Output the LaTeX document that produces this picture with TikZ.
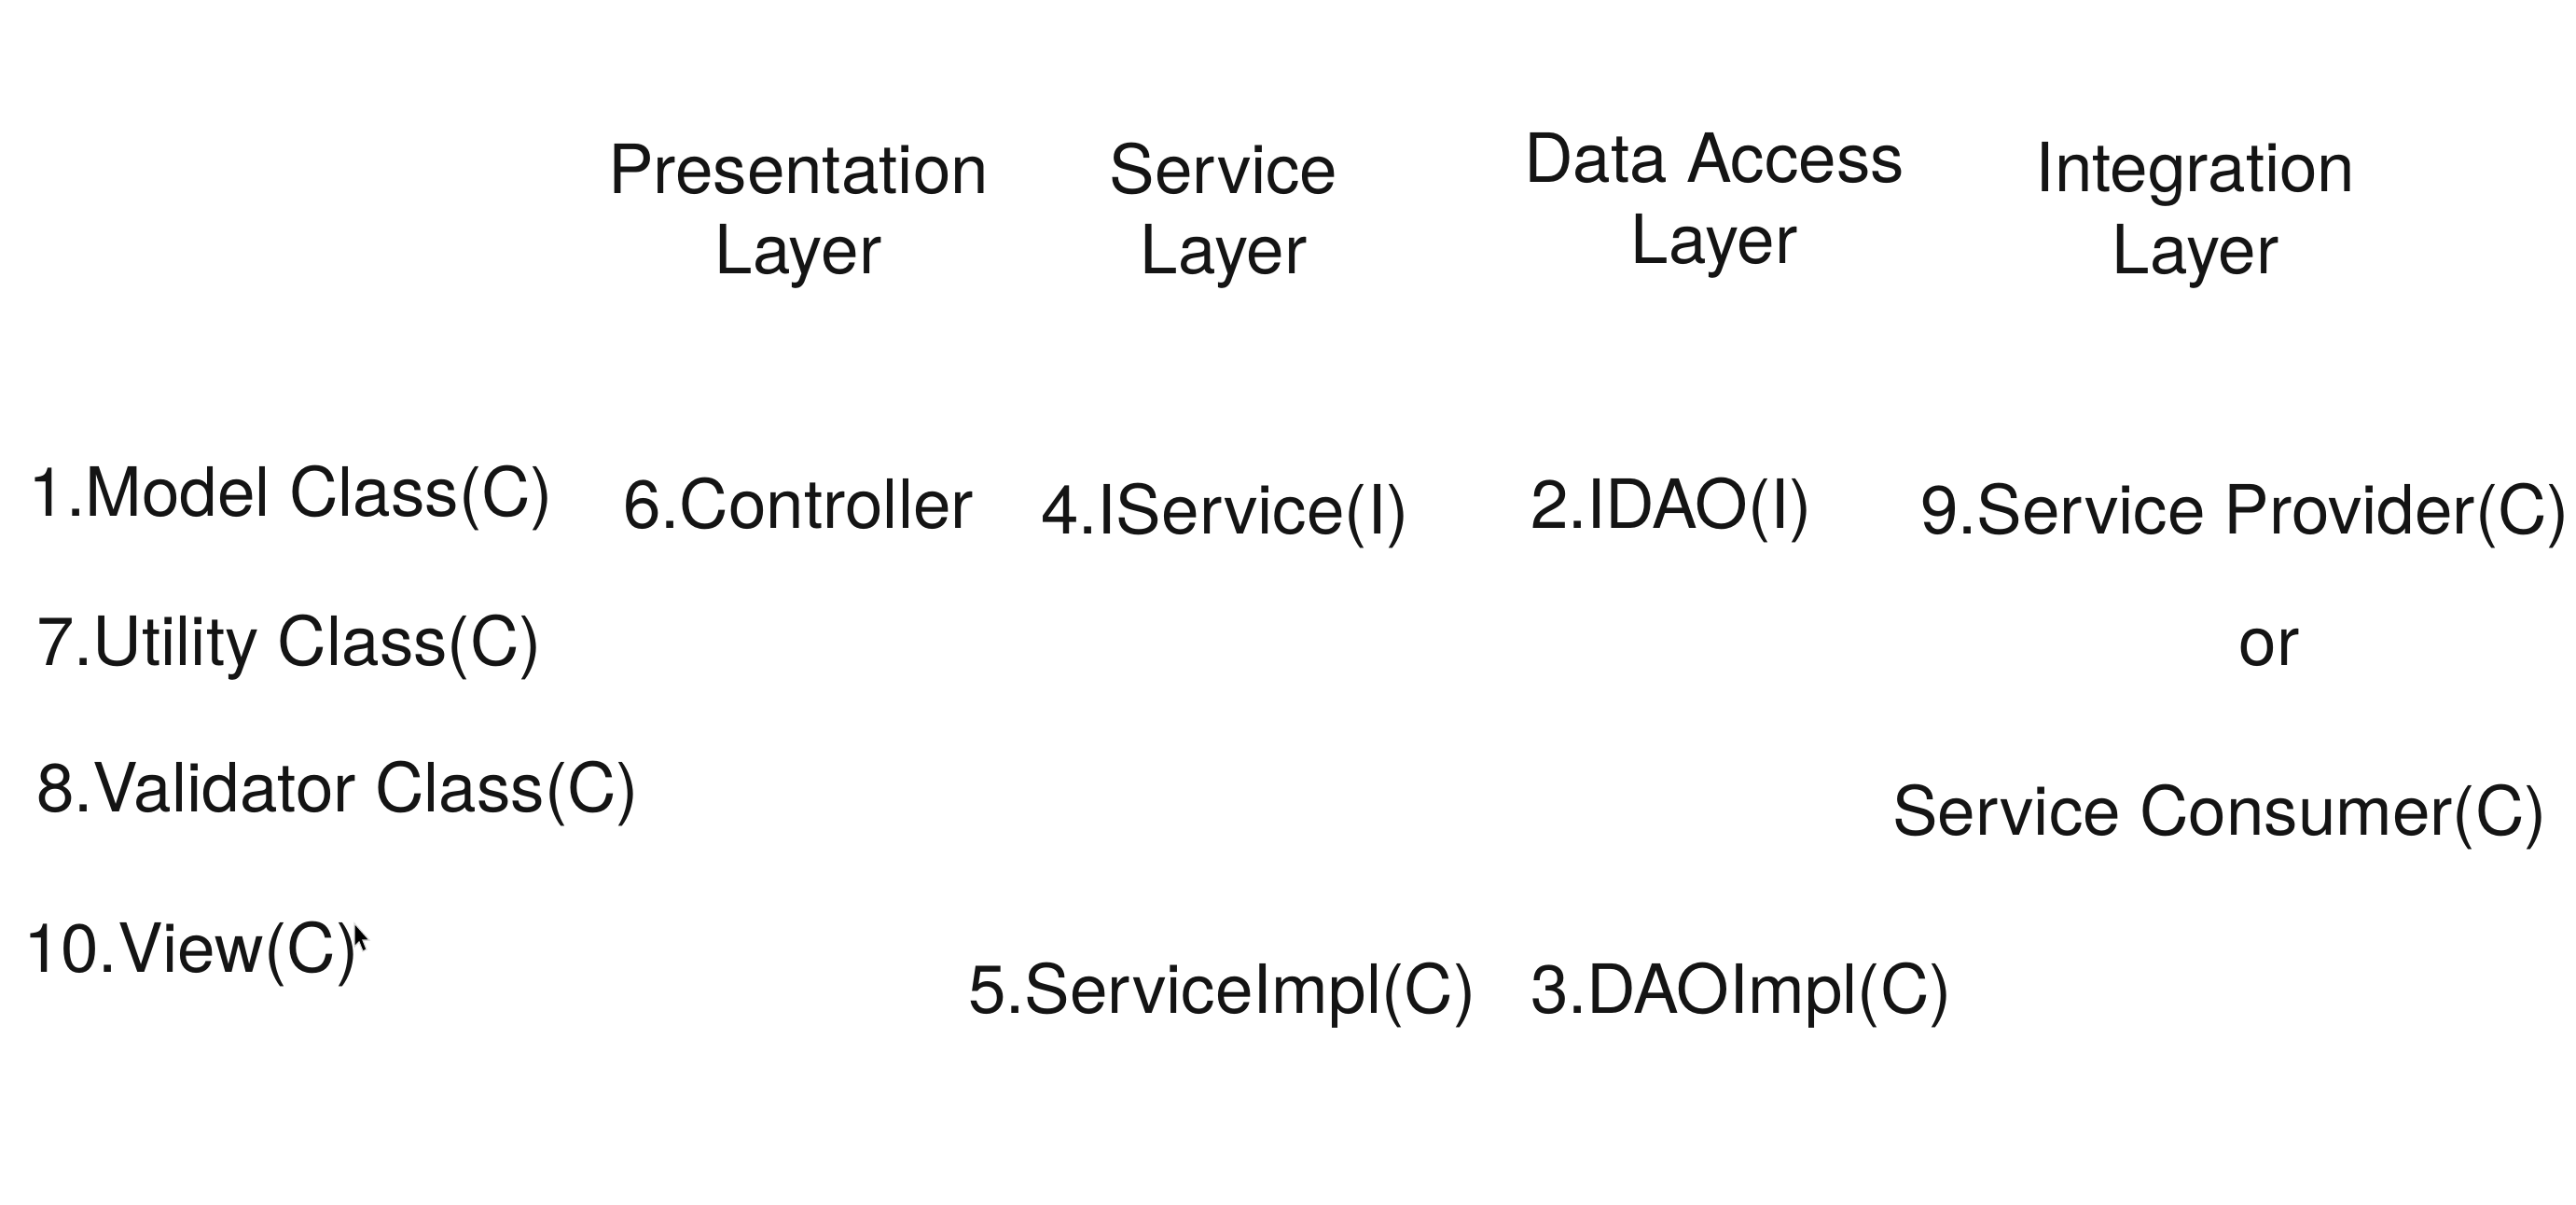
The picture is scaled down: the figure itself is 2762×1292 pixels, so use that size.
\documentclass[tikz,border=0pt]{standalone}
\usepackage{fontspec}
\setmainfont{TeX Gyre Heros}
\begin{document}
\begin{tikzpicture}[x=0.25pt,y=-0.25pt,
  lbl/.style={inner sep=0pt,outer sep=0pt,font=\fontsize{18.2pt}{21.5pt}\selectfont,text=black!92},
  item/.style={lbl,anchor=base west},
  hdr/.style={lbl,anchor=base}]
\useasboundingbox[fill=white] (0,0) rectangle (2762,1292);
% layer headers
\node[hdr] (presA) at (856,208) {Presentation};
\node[hdr] (presB) at (856,294) {Layer};
\node[hdr] (servA) at (1312,208) {Service};
\node[hdr] (servB) at (1312,294) {Layer};
\node[hdr] (daoA)  at (1838,196) {Data Access};
\node[hdr] (daoB)  at (1838,283) {Layer};
\node[hdr] (intA)  at (2354,206) {Integration};
\node[hdr] (intB)  at (2354,294) {Layer};
% items
\node[item] (model) at (31,554) {1.Model Class(C)};
\node[item] (ctrl)  at (668,567) {6.Controller};
\node[item] (iserv) at (1116,573) {4.IService(I)};
\node[item] (idao)  at (1641,567) {2.IDAO(I)};
\node[item] (prov)  at (2059,573) {9.Service Provider(C)};
\node[item] (util)  at (39,714) {7.Utility Class(C)};
\node[hdr]  (or)    at (2433,714) {or};
\node[item] (valid) at (39,871) {8.Validator Class(C)};
\node[item] (cons)  at (2029,896) {Service Consumer(C)};
\node[item] (view)  at (25,1042) {10.View(C)};
\node[item] (simpl) at (1038,1086) {5.ServiceImpl(C)};
\node[item] (dimpl) at (1641,1086) {3.DAOImpl(C)};
% mouse pointer
\fill[black, draw=white!85!black, line width=0.3pt]
  (380,990) -- (380,1015) -- (385,1010) -- (389,1020) -- (393,1018) -- (389,1008) -- (396,1008) -- cycle;
\end{tikzpicture}
\end{document}
